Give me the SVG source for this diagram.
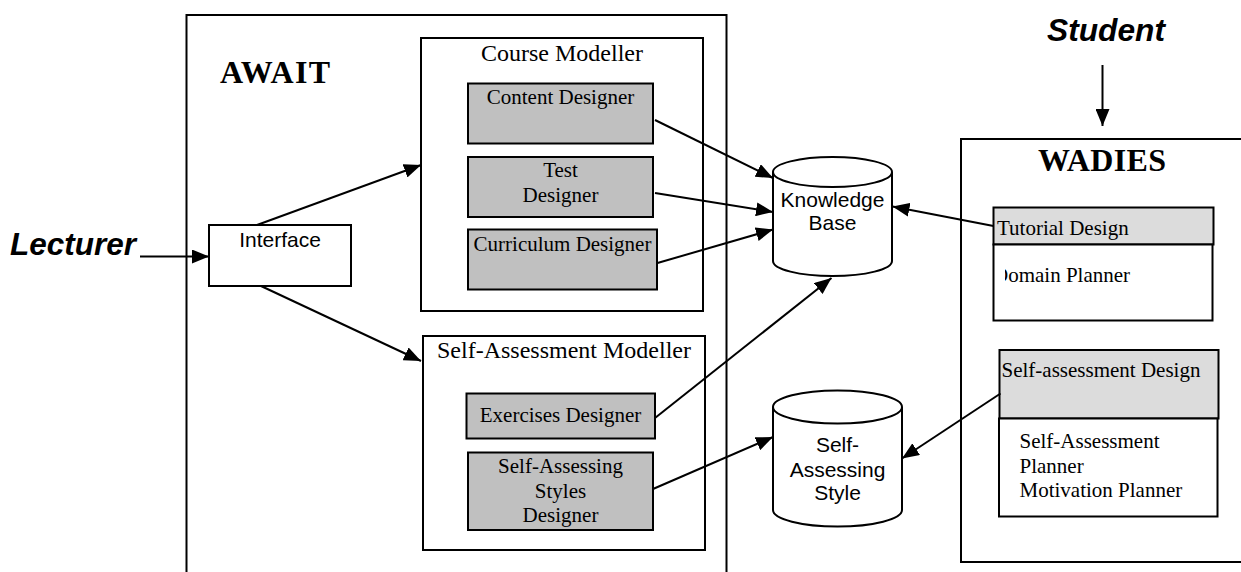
<svg xmlns="http://www.w3.org/2000/svg" width="1241" height="572" viewBox="0 0 1241 572">
<style>
.box{fill:#fff;stroke:#000;stroke-width:2}
.dg{fill:#c0c0c0;stroke:#000;stroke-width:2}
.lg{fill:#dcdcdc;stroke:#000;stroke-width:2}
.t{font-family:"Liberation Serif","Times New Roman",serif;font-size:21px;fill:#000}
.tm{font-family:"Liberation Serif","Times New Roman",serif;font-size:24px;fill:#000}
.tb{font-family:"Liberation Serif","Times New Roman",serif;font-size:32px;font-weight:bold;fill:#000}
.a{font-family:"Liberation Sans",Arial,sans-serif;font-size:21px;fill:#000}
.ab{font-family:"Liberation Sans",Arial,sans-serif;font-size:31px;font-weight:bold;font-style:italic;fill:#000}
.c{text-anchor:middle}
.ln{stroke:#000;stroke-width:2;fill:none;marker-end:url(#ah)}
</style>
<defs>
<marker id="ah" markerUnits="userSpaceOnUse" markerWidth="18" markerHeight="14" refX="17" refY="7" orient="auto">
<path d="M0,0 L17,7 L0,14 Z" fill="#000"/>
</marker>
<clipPath id="dclip"><rect x="1005" y="250" width="205" height="60"/></clipPath>
</defs>

<g id="await">
<rect class="box" x="186.5" y="15" width="540" height="570"/>
<text class="tb" x="220" y="83" textLength="110" lengthAdjust="spacing">AWAIT</text>
</g>

<g id="course-modeller">
<rect class="box" x="421" y="38" width="282" height="273"/>
<text class="tm c" x="562" y="61">Course Modeller</text>
</g>
<g id="content-designer">
<rect class="dg" x="468" y="83.5" width="185" height="60"/>
<text class="t c" x="560.5" y="104">Content Designer</text>
</g>
<g id="test-designer">
<rect class="dg" x="468" y="157" width="185" height="60"/>
<text class="t c" x="560.5" y="177">Test</text>
<text class="t c" x="560.5" y="202">Designer</text>
</g>
<g id="curriculum-designer">
<rect class="dg" x="468" y="229.5" width="189" height="60"/>
<text class="t c" x="562.5" y="251">Curriculum Designer</text>
</g>

<g id="interface">
<rect class="box" x="209" y="225" width="142" height="61"/>
<text class="a c" x="280" y="247">Interface</text>
</g>

<g id="sa-modeller">
<rect class="box" x="423" y="336" width="282" height="214"/>
<text class="tm c" x="564" y="358">Self-Assessment Modeller</text>
</g>
<g id="exercises-designer">
<rect class="dg" x="466.5" y="393.5" width="188.5" height="45"/>
<text class="t c" x="560.5" y="422">Exercises Designer</text>
</g>
<g id="sas-designer">
<rect class="dg" x="468" y="452.5" width="185" height="77.5"/>
<text class="t c" x="560.5" y="473">Self-Assessing</text>
<text class="t c" x="560.5" y="498">Styles</text>
<text class="t c" x="560.5" y="522">Designer</text>
</g>

<g id="knowledge-base">
<path class="box" d="M773,172 A59.5,15 0 0 1 892,172 L892,261 A59.5,15 0 0 1 773,261 Z"/>
<path class="box" d="M773,172 A59.5,15 0 0 0 892,172"/>
<text class="a c" x="832.5" y="207">Knowledge</text>
<text class="a c" x="832.5" y="230">Base</text>
</g>

<g id="sa-style">
<path class="box" d="M773,407 A64.5,16.5 0 0 1 902,407 L902,510 A64.5,16.5 0 0 1 773,510 Z"/>
<path class="box" d="M773,407 A64.5,16.5 0 0 0 902,407"/>
<text class="a c" x="837.5" y="452">Self-</text>
<text class="a c" x="837.5" y="477">Assessing</text>
<text class="a c" x="837.5" y="500">Style</text>
</g>

<g id="lecturer">
<text class="ab" x="10" y="255" textLength="126" lengthAdjust="spacingAndGlyphs">Lecturer</text>
</g>
<g id="student">
<text class="ab" x="1047" y="41" textLength="118" lengthAdjust="spacingAndGlyphs">Student</text>
</g>

<g id="wadies">
<rect class="box" x="961" y="139" width="290" height="423"/>
<text class="tb" x="1038" y="171" textLength="128" lengthAdjust="spacing">WADIES</text>
</g>
<g id="tutorial-design">
<rect class="lg" x="993.5" y="207.5" width="220" height="37"/>
<text class="t" x="997" y="235">Tutorial Design</text>
</g>
<g id="domain-planner">
<rect class="box" x="993.5" y="244.5" width="219" height="76"/>
<text class="t" x="993" y="282" clip-path="url(#dclip)">Domain Planner</text>
</g>
<g id="sa-design">
<rect class="lg" x="999.5" y="350" width="219" height="68.5"/>
<text class="t" x="1001.5" y="377">Self-assessment Design</text>
</g>
<g id="sa-planner">
<rect class="box" x="999" y="418.5" width="218.5" height="98"/>
<text class="t" x="1019.5" y="448">Self-Assessment</text>
<text class="t" x="1019.5" y="473">Planner</text>
<text class="t" x="1019.5" y="497">Motivation Planner</text>
</g>

<g id="connectors">
<line class="ln" x1="140" y1="256.5" x2="209" y2="256.5"/>
<line class="ln" x1="1102.5" y1="65" x2="1102.5" y2="126"/>
<line class="ln" x1="257" y1="225" x2="421" y2="165"/>
<line class="ln" x1="261" y1="286" x2="421" y2="361"/>
<line class="ln" x1="655" y1="120" x2="773" y2="178"/>
<line class="ln" x1="655" y1="193" x2="773" y2="212"/>
<line class="ln" x1="657.5" y1="263" x2="773" y2="229.5"/>
<line class="ln" x1="655" y1="418" x2="831.5" y2="278"/>
<line class="ln" x1="993.5" y1="226" x2="892.5" y2="206.5"/>
<line class="ln" x1="653" y1="489" x2="773" y2="437"/>
<line class="ln" x1="1000.5" y1="393.5" x2="902" y2="458.5"/>
</g>
</svg>
